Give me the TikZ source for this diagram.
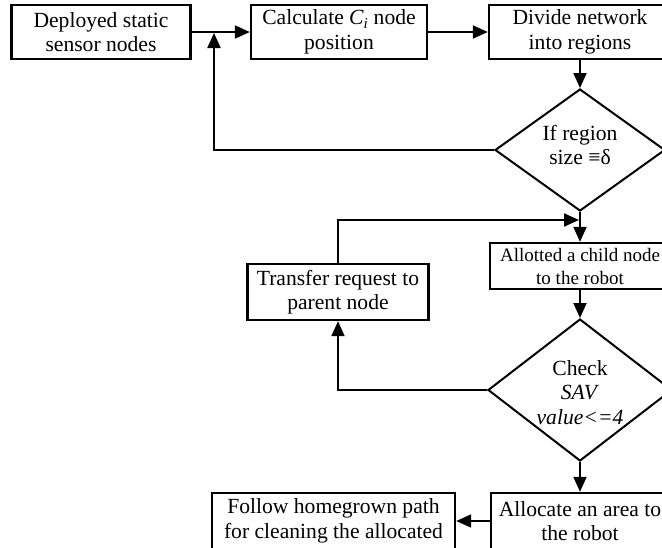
\documentclass[tikz,border=0pt]{standalone}
\usepackage{fontspec}
\setmainfont{Liberation Serif}
\usetikzlibrary{positioning,arrows.meta,shapes.geometric}
\newcommand{\dlbl}[2][0pt]{\makebox[0pt]{\smash{\raisebox{#1}{\begin{tabular}{@{}c@{}}#2\end{tabular}}}}}

\begin{document}
\begin{tikzpicture}[
  x=1pt, y=-1pt,
  >={Triangle[length=15pt,width=13pt]},
  font=\fontsize{21.6pt}{24.5pt}\selectfont,
  box/.style={draw, line width=2.4pt, align=center, inner sep=0pt},
  decision/.style={diamond, draw, line width=2pt, inner sep=0pt, aspect=1.4},
  flow/.style={->, line width=2pt},
]
\useasboundingbox (0,0) rectangle (662,547);
\clip (0,0) rectangle (662,547);

% top row
\node[box, minimum width=179pt, minimum height=54pt] (deploy) at (101,32) {Deployed static\\sensor nodes};
\node[box, minimum width=176pt, minimum height=54pt] (calc) at (339,32) {Calculate \textit{C\textsubscript{i}} node\\position};
\node[box, minimum width=182pt, minimum height=54pt] (divide) at (580,32) {Divide network\\into regions};
\node[decision, minimum width=170pt, minimum height=122pt] (region) at (580,150) {\dlbl[-3pt]{If region\\size ≡δ}};

% child allocation loop
\node[box, minimum width=180pt, minimum height=46pt, font=\fontsize{19pt}{23pt}\selectfont] (allot) at (580,266) {Allotted a child node\\to the robot};
\node[box, minimum width=181pt, minimum height=56pt] (transfer) at (338,292) {Transfer request to\\parent node};
\node[decision, minimum width=184pt, minimum height=142pt] (sav) at (580,390) {\dlbl[-10pt]{Check\\\textit{SAV}\\\textit{value<=4}}};

% bottom row
\node[box, minimum width=178pt, minimum height=56pt] (allocate) at (580,521) {Allocate an area to\\the robot};
\node[box, minimum width=243pt, minimum height=56pt] (follow) at (333.5,521) {Follow homegrown path\\for cleaning the allocated};

\coordinate (j1) at (214,33);
\coordinate (j2) at (579,220);

\draw[flow] (deploy) -- (calc);
\draw[flow] (calc) -- (divide);
\draw[flow] (divide) -- (region);
\draw[flow] (region.west) -| (j1);
\draw[flow] (region) -- (allot);
\draw[flow] (transfer.north) |- (j2);
\draw[flow] (allot) -- (sav);
\draw[flow] (sav.west) -| (transfer.south);
\draw[flow] (sav) -- (allocate);
\draw[flow] (allocate) -- (follow);
\end{tikzpicture}
\end{document}
